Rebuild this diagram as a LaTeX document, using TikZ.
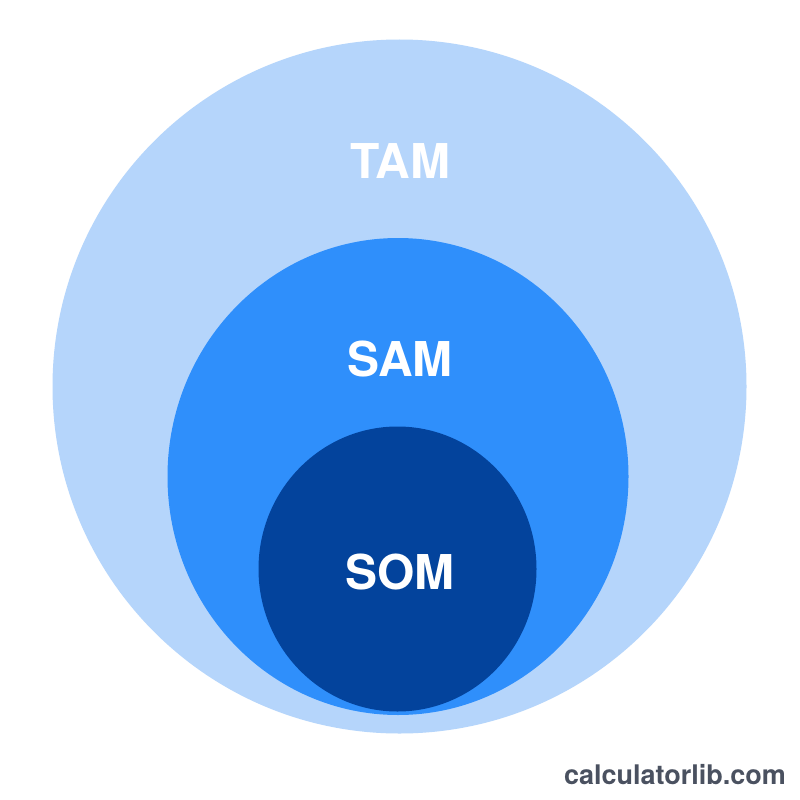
\documentclass[tikz,border=0pt]{standalone}
\usepackage{fontspec}
\setmainfont{TeX Gyre Heros}
\usepackage{tikz}
\usetikzlibrary{shapes.geometric}
\definecolor{tamBlue}{HTML}{B5D5FB}
\definecolor{samBlue}{HTML}{2F8FFB}
\definecolor{somBlue}{HTML}{03439C}
\definecolor{brandGray}{HTML}{4A5160}

\begin{document}
\begin{tikzpicture}
[x=1pt,y=-1pt,
market/.style={ellipse,inner sep=0pt,draw=none},
tamCircle/.style={market,fill=tamBlue,minimum width=694pt,minimum height=694pt},
samCircle/.style={market,fill=samBlue,minimum width=461pt,minimum height=477pt},
somCircle/.style={market,fill=somBlue,minimum width=278pt,minimum height=285pt},
marketLabel/.style={text=white,font=\fontsize{48}{48}\selectfont\bfseries,inner sep=0pt},
brandLabel/.style={text=brandGray,font=\fontsize{27}{27}\selectfont\bfseries,inner sep=0pt},
]\fill[white] (0,0) rectangle (800,800);
\useasboundingbox (0,0) rectangle (800,800);
\node[tamCircle,] (tam) at (399.5 , 386.5) {}; 
\node[samCircle,] (sam) at (398 , 476.5) {}; 
\node[somCircle,] (som) at (397.5 , 569) {}; 
\node[marketLabel,] (tamText) at (400 , 161) {TAM}; 
\node[marketLabel,] (samText) at (400 , 359) {SAM}; 
\node[marketLabel,] (somText) at (400 , 572) {SOM}; 
\node[brandLabel,anchor=east,] (brand) at (786 , 775) {calculatorlib.com}; 
\end{tikzpicture}
\end{document}
